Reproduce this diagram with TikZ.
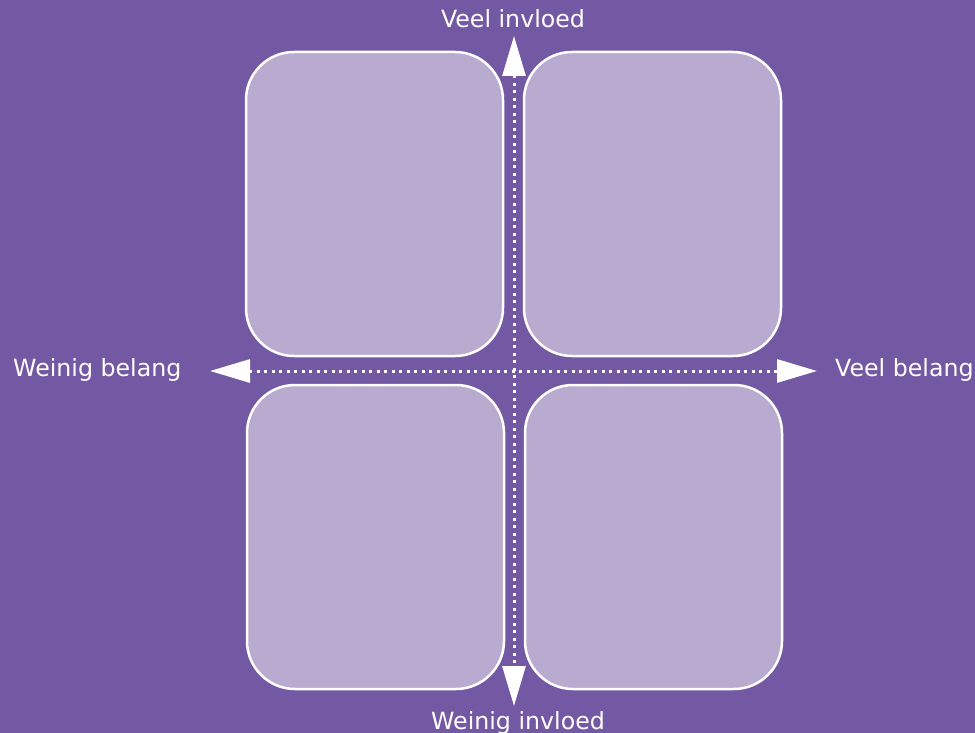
\documentclass[tikz,border=0pt]{standalone}
\usepackage{fontspec}
\setmainfont{DejaVu Sans}
\usetikzlibrary{arrows.meta}
\definecolor{bgpurple}{HTML}{7359A3}
\definecolor{boxlav}{HTML}{B9ABCF}
\tikzset{
  quad/.style={draw=white, line width=2.5pt, fill=boxlav, rounded corners=48pt},
  axisline/.style={white, line width=3pt, dash pattern=on 3pt off 4.5pt,
    {Triangle[length=40pt,width=23pt]}-{Triangle[length=40pt,width=23pt]}},
  lbl/.style={text=white, font=\fontsize{23.7}{28}\selectfont, inner sep=0pt}
}
\begin{document}
\begin{tikzpicture}[x=1pt,y=-1pt]
\fill[bgpurple] (0,0) rectangle (975,733);
\useasboundingbox (0,0) rectangle (975,733);
\draw[quad] (246,52) rectangle (503,356);
\draw[quad] (524,52) rectangle (781,356);
\draw[quad] (247,385) rectangle (504,689);
\draw[quad] (525,385) rectangle (782,689);
\coordinate (top) at (514,36);
\coordinate (bottom) at (514,706);
\coordinate (left) at (210,371);
\coordinate (right) at (817,371);
\draw[axisline] (top) -- (bottom);
\draw[axisline] (left) -- (right);
\node[lbl, anchor=base] (vi) at (513,28) {Veel invloed};
\node[lbl, anchor=base] (wi) at (518,729) {Weinig invloed};
\node[lbl, anchor=base west] (wb) at (13,376) {Weinig belang};
\node[lbl, anchor=base west] (vb) at (835,376) {Veel belang};
\end{tikzpicture}
\end{document}
